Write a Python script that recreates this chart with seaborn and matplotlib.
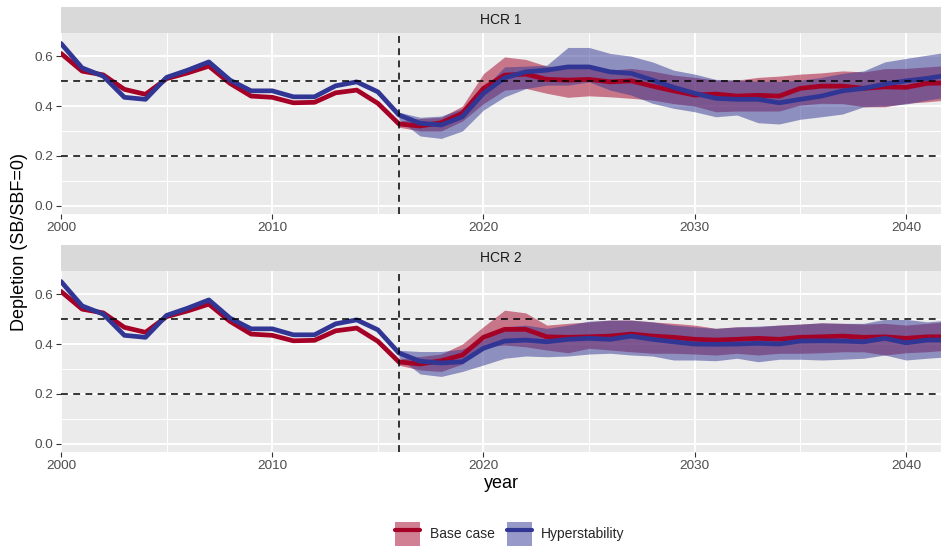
import numpy as np
import pandas as pd
import matplotlib
matplotlib.use("Agg")
import matplotlib.pyplot as plt
from matplotlib.patches import Patch
from matplotlib.lines import Line2D
from matplotlib.ticker import MultipleLocator
import seaborn as sns

# years
hist_years = list(range(2000, 2017))
proj_years = list(range(2017, 2043))
band_years = list(range(2016, 2043))

# historical depletion (same in both panels)
base_hist = [0.611, 0.54, 0.525, 0.467, 0.447, 0.51, 0.533, 0.56, 0.491, 0.44,
             0.435, 0.413, 0.415, 0.453, 0.464, 0.411, 0.328]
hyper_hist = [0.651, 0.553, 0.52, 0.435, 0.427, 0.515, 0.544, 0.577, 0.504, 0.461,
              0.461, 0.437, 0.437, 0.481, 0.497, 0.457, 0.364]

# HCR 1 projections (median) 2017-2042
hcr1_base = [0.32, 0.333, 0.371, 0.471, 0.524, 0.528, 0.507, 0.504, 0.507, 0.497,
             0.501, 0.48, 0.461, 0.444, 0.448, 0.44, 0.443, 0.44, 0.471, 0.48,
             0.48, 0.471, 0.477, 0.475, 0.491, 0.493]
hcr1_hyper = [0.331, 0.324, 0.357, 0.451, 0.513, 0.537, 0.544, 0.557, 0.557, 0.537,
              0.531, 0.504, 0.475, 0.451, 0.431, 0.427, 0.427, 0.413, 0.427, 0.44,
              0.461, 0.471, 0.488, 0.501, 0.511, 0.524]
# HCR 1 intervals 2016-2042
hcr1_base_lo = [0.315, 0.30, 0.30, 0.34, 0.41, 0.464, 0.471, 0.451, 0.435, 0.441,
                0.437, 0.431, 0.424, 0.41, 0.40, 0.377, 0.38, 0.38, 0.38, 0.404,
                0.411, 0.41, 0.397, 0.397, 0.411, 0.417, 0.425]
hcr1_base_hi = [0.34, 0.35, 0.355, 0.40, 0.53, 0.597, 0.587, 0.56, 0.557, 0.55,
                0.544, 0.551, 0.54, 0.524, 0.515, 0.504, 0.504, 0.515, 0.52, 0.528,
                0.533, 0.541, 0.537, 0.55, 0.551, 0.557, 0.563]
hcr1_hyper_lo = [0.345, 0.28, 0.27, 0.30, 0.384, 0.437, 0.47, 0.484, 0.484, 0.497,
                 0.464, 0.444, 0.411, 0.391, 0.377, 0.357, 0.364, 0.333, 0.328, 0.347,
                 0.357, 0.368, 0.397, 0.40, 0.408, 0.424, 0.437]
hcr1_hyper_hi = [0.375, 0.355, 0.36, 0.39, 0.47, 0.557, 0.56, 0.564, 0.635, 0.635,
                 0.611, 0.60, 0.577, 0.544, 0.528, 0.507, 0.504, 0.50, 0.50, 0.504,
                 0.515, 0.531, 0.541, 0.577, 0.591, 0.604, 0.617]

# HCR 2 projections (median) 2017-2042
hcr2_base = [0.32, 0.333, 0.356, 0.427, 0.459, 0.459, 0.429, 0.427, 0.429, 0.432,
             0.44, 0.432, 0.427, 0.419, 0.416, 0.419, 0.423, 0.419, 0.427, 0.429,
             0.432, 0.427, 0.429, 0.423, 0.429, 0.429]
hcr2_hyper = [0.331, 0.324, 0.329, 0.383, 0.412, 0.416, 0.409, 0.419, 0.423, 0.419,
              0.432, 0.419, 0.409, 0.40, 0.399, 0.40, 0.403, 0.40, 0.412, 0.413,
              0.412, 0.409, 0.423, 0.405, 0.416, 0.416]
# HCR 2 intervals 2016-2042
hcr2_base_lo = [0.315, 0.296, 0.29, 0.32, 0.389, 0.396, 0.389, 0.376, 0.365, 0.383,
                0.376, 0.369, 0.363, 0.363, 0.36, 0.356, 0.363, 0.356, 0.363, 0.363,
                0.365, 0.369, 0.369, 0.356, 0.365, 0.369, 0.376]
hcr2_base_hi = [0.34, 0.35, 0.36, 0.40, 0.47, 0.536, 0.525, 0.476, 0.483, 0.489,
                0.496, 0.496, 0.489, 0.483, 0.476, 0.463, 0.469, 0.469, 0.476, 0.48,
                0.485, 0.483, 0.48, 0.483, 0.476, 0.483, 0.49]
hcr2_hyper_lo = [0.345, 0.28, 0.27, 0.29, 0.316, 0.343, 0.352, 0.349, 0.352, 0.36,
                 0.363, 0.356, 0.352, 0.336, 0.336, 0.333, 0.343, 0.329, 0.339, 0.339,
                 0.336, 0.339, 0.343, 0.356, 0.336, 0.343, 0.349]
hcr2_hyper_hi = [0.375, 0.37, 0.37, 0.38, 0.416, 0.469, 0.476, 0.463, 0.476, 0.492,
                 0.496, 0.496, 0.489, 0.476, 0.469, 0.463, 0.469, 0.472, 0.476, 0.48,
                 0.485, 0.483, 0.483, 0.499, 0.499, 0.489, 0.496]

scenarios = ["Base case", "Hyperstability"]
colors = {"Base case": "#A50026", "Hyperstability": "#313695"}

panels = {
    "HCR 1": dict(base=hcr1_base, hyper=hcr1_hyper,
                  bands=[(hcr1_base_lo, hcr1_base_hi), (hcr1_hyper_lo, hcr1_hyper_hi)]),
    "HCR 2": dict(base=hcr2_base, hyper=hcr2_hyper,
                  bands=[(hcr2_base_lo, hcr2_base_hi), (hcr2_hyper_lo, hcr2_hyper_hi)]),
}

sns.set_style("darkgrid", {"axes.facecolor": "#EBEBEB", "grid.color": "white"})
plt.rcParams["font.family"] = ["Liberation Sans", "DejaVu Sans"]

fig = plt.figure(figsize=(9.41, 5.46), dpi=100)
W, H = 941, 546
left, right = 61, 941
panel_px = [(33, 214), (271, 452)]

for (top, bot), (name, p) in zip(panel_px, panels.items()):
    ax = fig.add_axes([left / W, 1 - bot / H, (right - left) / W, (bot - top) / H])
    strip = fig.add_axes([left / W, 1 - top / H, (right - left) / W, 26 / H])
    strip.set_facecolor("#D9D9D9")
    strip.set_xticks([]); strip.set_yticks([])
    for s in strip.spines.values():
        s.set_visible(False)
    strip.text(0.5, 0.5, name, ha="center", va="center", fontsize=10, color="#1A1A1A",
               transform=strip.transAxes)

    # ribbons
    for sc, (lo, hi) in zip(scenarios, p["bands"]):
        ax.fill_between(band_years, lo, hi, color=colors[sc], alpha=0.5, lw=0)

    df = pd.concat([
        pd.DataFrame({"year": hist_years + proj_years, "depletion": base_hist + p["base"],
                      "scenario": "Base case"}),
        pd.DataFrame({"year": hist_years + proj_years, "depletion": hyper_hist + p["hyper"],
                      "scenario": "Hyperstability"}),
    ])
    sns.lineplot(data=df, x="year", y="depletion", hue="scenario", hue_order=scenarios,
                 palette=colors, lw=3.4, legend=False, errorbar=None, ax=ax)

    for yv in (0.2, 0.5):
        ax.axhline(yv, color="black", lw=1.1, ls=(0, (4.5, 3.5)), zorder=5)
    ax.axvline(2016, color="black", lw=1.1, ls=(0, (4.5, 3.5)), zorder=5)

    ax.set_xlim(2000, 2041.66)
    ax.set_ylim(-0.033, 0.693)
    ax.set_xticks([2000, 2010, 2020, 2030, 2040])
    ax.set_yticks([0.0, 0.2, 0.4, 0.6])
    ax.set_yticklabels(["0.0", "0.2", "0.4", "0.6"])
    ax.xaxis.set_minor_locator(MultipleLocator(5))
    ax.yaxis.set_minor_locator(MultipleLocator(0.1))
    ax.grid(which="major", color="white", lw=1.4)
    ax.grid(which="minor", color="white", lw=0.7)
    ax.tick_params(which="major", length=3.5, width=0.8, color="#333333",
                   labelsize=9.7, labelcolor="#4D4D4D", pad=2, bottom=True, left=True)
    ax.tick_params(which="minor", length=0)
    for s in ax.spines.values():
        s.set_visible(False)
    ax.set_xlabel("")
    ax.set_ylabel("")

fig.text(20 / W, 1 - 242 / H, "Depletion (SB/SBF=0)", rotation=90, ha="center", va="center",
         fontsize=13, color="black")
fig.text(501 / W, 1 - 484 / H, "year", ha="center", va="center", fontsize=13, color="black")

handles = [(Patch(facecolor=colors[sc], alpha=0.5, lw=0),
            Line2D([], [], color=colors[sc], lw=3.0)) for sc in scenarios]
fig.legend(handles, scenarios, loc="center", bbox_to_anchor=(510 / W, 1 - 534 / H), ncol=2,
           frameon=False, fontsize=10, handlelength=1.8, handleheight=2.2,
           handletextpad=0.7, columnspacing=0.85, borderaxespad=0, borderpad=0)

fig.savefig("out.png", dpi=100)
